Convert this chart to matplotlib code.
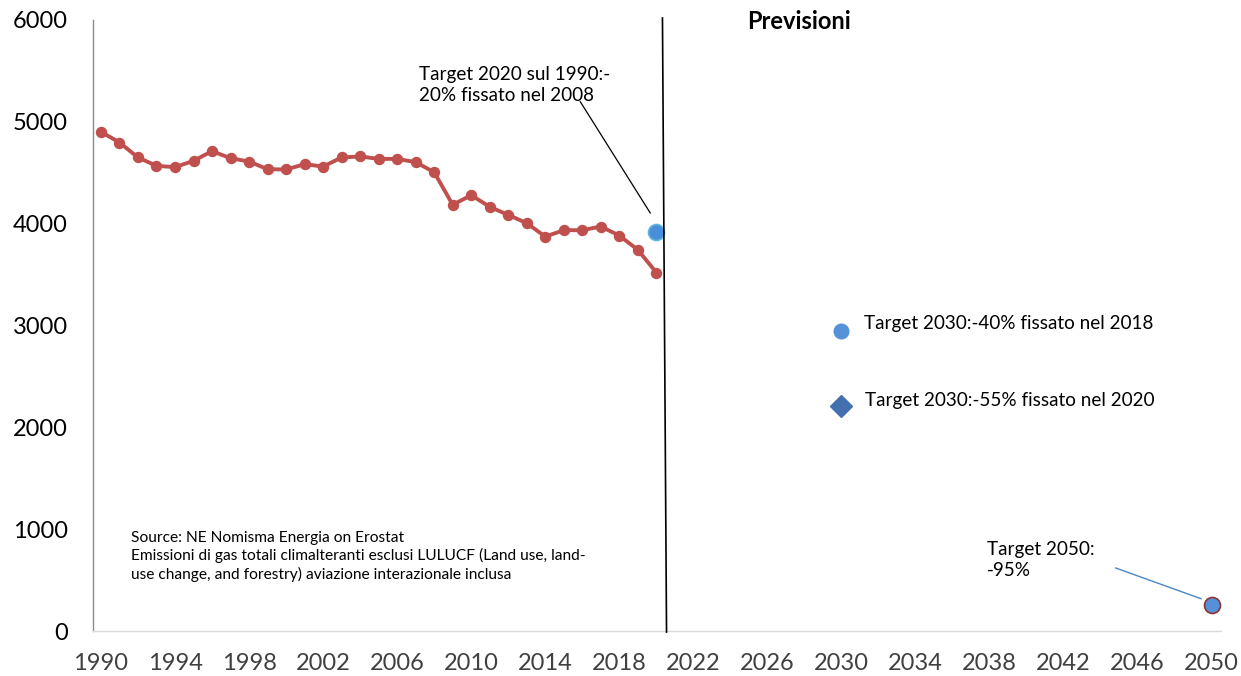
import matplotlib
matplotlib.use("Agg")
import matplotlib.pyplot as plt

plt.rcParams['font.family'] = ['Lato', 'DejaVu Sans']

# ---- data ----
years = list(range(1990, 2021))
emissions = [4902, 4797, 4650, 4568, 4555, 4617, 4712, 4643, 4610, 4535,
             4532, 4584, 4561, 4650, 4660, 4636, 4636, 4604, 4505, 4185,
             4280, 4165, 4086, 4005, 3873, 3936, 3936, 3972, 3883, 3743,
             3520]
target2020_year = 2020
target2020_value = 3923
target2030_40_year = 2030
target2030_40_value = 2947
target2030_55_year = 2030
target2030_55_value = 2210
target2050_year = 2050
target2050_value = 255
xticks = list(range(1990, 2051, 4))
yticks = [0, 1000, 2000, 3000, 4000, 5000, 6000]

fig = plt.figure(figsize=(12.41, 6.76), dpi=100)
ax = fig.add_axes([93/1241, 1-631/676, (1221-93)/1241, (631-20)/676])
ax.set_xlim(1989.57, 2050.5)
ax.set_ylim(0, 6000)

ax.plot(years, emissions, color='#C0504D', lw=2.8, marker='o', ms=7.2,
        markerfacecolor='#C0504D', markeredgecolor='#C0504D', zorder=3)

ax.plot([target2020_year], [target2020_value], 'o', ms=11.5,
        markerfacecolor='#4A8DD8', markeredgecolor='#5FB4E0', mew=1.2, zorder=4)
ax.plot([target2030_40_year], [target2030_40_value], 'o', ms=10.5,
        markerfacecolor='#5592D8', markeredgecolor='#5592D8', zorder=4)
ax.plot([target2030_55_year], [target2030_55_value], 'D', ms=11,
        markerfacecolor='#4370AE', markeredgecolor='#4370AE', zorder=4)
ax.plot([target2050_year], [target2050_value], 'o', ms=11.5,
        markerfacecolor='#5590D8', markeredgecolor='#8B3535', mew=1.2, zorder=4)

# vertical separator
ax.plot([2020.33, 2020.55], [6020, -10], color='black', lw=1.2, clip_on=False, zorder=5)

# annotation lines
ax.plot([2015.89, 2019.67], [5198, 4105], color='black', lw=0.9, zorder=2)
ax.plot([2044.81, 2049.42], [619, 317], color='#4A86C8', lw=1.0, zorder=2)

# texts
ax.text(2007.16, 5362, "Target 2020 sul 1990:-\n20% fissato nel 2008", fontsize=13.6,
        ha='left', va='center', linespacing=1.28, color='black')
ax.text(2027.72, 5981, "Previsioni", fontsize=17, fontweight='bold',
        ha='center', va='center', color='black')
ax.text(2031.23, 3015, "Target 2030:-40% fissato nel 2018", fontsize=13.6,
        ha='left', va='center', color='black')
ax.text(2031.28, 2268, "Target 2030:-55% fissato nel 2020", fontsize=13.6,
        ha='left', va='center', color='black')
ax.text(2037.87, 697, "Target 2050:\n-95%", fontsize=13.6,
        ha='left', va='center', linespacing=1.28, color='black')
ax.text(1991.62, 732, "Source: NE Nomisma Energia on Erostat\n"
        "Emissioni di gas totali climalteranti esclusi LULUCF (Land use, land-\n"
        "use change, and forestry) aviazione interazionale inclusa",
        fontsize=11.2, ha='left', va='center', linespacing=1.25, color='black')

# axes styling
ax.set_xticks(xticks)
ax.set_yticks(yticks)
ax.tick_params(axis='x', length=0, pad=16, labelsize=17, labelcolor='#404040')
ax.tick_params(axis='y', length=0, pad=18, labelsize=17, labelcolor='black')
for s in ['top', 'right']:
    ax.spines[s].set_visible(False)
ax.spines['left'].set_color('#8C8C8C')
ax.spines['left'].set_linewidth(1.0)
ax.spines['bottom'].set_color('#D9D9D9')
ax.spines['bottom'].set_linewidth(1.0)

fig.savefig('out.png', dpi=100)
